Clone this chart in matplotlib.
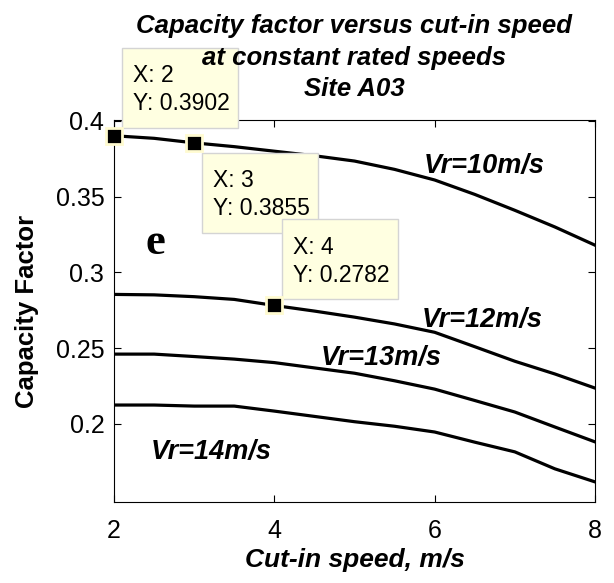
import matplotlib
matplotlib.use("Agg")
from matplotlib import pyplot as plt
from matplotlib.patches import Rectangle
from matplotlib.transforms import ScaledTranslation

plt.rcParams["font.family"] = ["Liberation Sans", "DejaVu Sans"]

# Data
cutInSpeed = [2, 2.5, 3, 3.5, 4, 4.5, 5, 5.5, 6, 6.5, 7, 7.5, 8]
cfVr10 = [0.3902, 0.3885, 0.3855, 0.3830, 0.3800, 0.3770, 0.3735,
          0.3680, 0.3610, 0.3515, 0.3410, 0.3300, 0.3180]
cfVr12 = [0.2855, 0.2852, 0.2840, 0.2822, 0.2782, 0.2745, 0.2705,
          0.2660, 0.2605, 0.2510, 0.2414, 0.2330, 0.2237]
cfVr13 = [0.2461, 0.2461, 0.2445, 0.2428, 0.2405, 0.2370, 0.2335,
          0.2285, 0.2230, 0.2155, 0.2079, 0.1980, 0.1882]
cfVr14 = [0.2125, 0.2125, 0.2118, 0.2118, 0.2085, 0.2050, 0.2015,
          0.1985, 0.1947, 0.1880, 0.1816, 0.1704, 0.1618]

curveLabels = ["Vr=10m/s", "Vr=12m/s", "Vr=13m/s", "Vr=14m/s"]
labelX = [6.62, 6.59, 5.33, 3.21]
labelY = [0.3703, 0.2686, 0.2436, 0.1815]

# Data tips
tipX = [2, 3, 4]
tipY = [0.3902, 0.3855, 0.2782]
# lower-left corner of each tip box, pixels from the marker
tipBoxCorner = [(8, 8), (8, -90), (8, 6)]
tipBoxSize = (116, 80)

xTicks = [2, 4, 6, 8]
yTicks = [0.2, 0.25, 0.3, 0.35, 0.4]
yTickLabels = ["0.2", "0.25", "0.3", "0.35", "0.4"]

fig = plt.figure(figsize=(6.14, 5.83), dpi=100)
ax = fig.add_axes([0.1857, 0.1389, 0.7833, 0.6553])

for series in [cfVr10, cfVr12, cfVr13, cfVr14]:
    ax.plot(cutInSpeed, series, color="black", linewidth=2.3, zorder=2)

for i in range(len(curveLabels)):
    ax.text(labelX[i], labelY[i], curveLabels[i], fontsize=19.5,
            fontweight="bold", fontstyle="italic", ha="center", va="center")

ax.text(2.51, 0.3195, "e", family="Liberation Serif", fontsize=32,
        fontweight="bold", ha="center", va="center")

ax.set_xlim(2, 8)
ax.set_ylim(0.1485, 0.4006)

# data tip markers
ax.plot(tipX, tipY, linestyle="none", marker="s", markersize=11,
        markerfacecolor="black", markeredgecolor="#fffbd0",
        markeredgewidth=2, zorder=5, clip_on=False)

# data tip boxes, sized in pixels around each marker
for i in range(len(tipX)):
    anchor = ScaledTranslation(tipX[i], tipY[i], ax.transData)
    bx, by = tipBoxCorner[i]
    w, h = tipBoxSize
    box = Rectangle((bx, by), w, h, transform=anchor, facecolor="#ffffe1",
                    edgecolor="#d4d4d4", linewidth=1, zorder=3,
                    clip_on=False)
    ax.add_artist(box)
    ax.text(bx + 11, by + h - 28, "X: {}".format(tipX[i]), transform=anchor,
            fontsize=16.5, ha="left", va="center", zorder=4, clip_on=False)
    ax.text(bx + 11, by + h - 56, "Y: {}".format(tipY[i]), transform=anchor,
            fontsize=16.5, ha="left", va="center", zorder=4, clip_on=False)

ax.set_xticks(xTicks)
ax.set_yticks(yTicks)
ax.set_yticklabels(yTickLabels)
ax.tick_params(direction="in", top=True, right=True, labelsize=18,
               length=5)
ax.tick_params(axis="x", pad=12)
ax.tick_params(axis="y", pad=7)

ax.set_xlabel("Cut-in speed, m/s", fontsize=19, fontweight="bold",
              fontstyle="italic", labelpad=4)
ax.set_ylabel("Capacity Factor", fontsize=18.5, fontweight="bold",
              labelpad=12)
title = ax.set_title("Capacity factor versus cut-in speed\n"
                     "at constant rated speeds\nSite A03",
                     fontsize=18.5, fontweight="bold", fontstyle="italic",
                     linespacing=1.4, pad=17)
title.set_zorder(10)

fig.savefig("out.png", dpi=100)
